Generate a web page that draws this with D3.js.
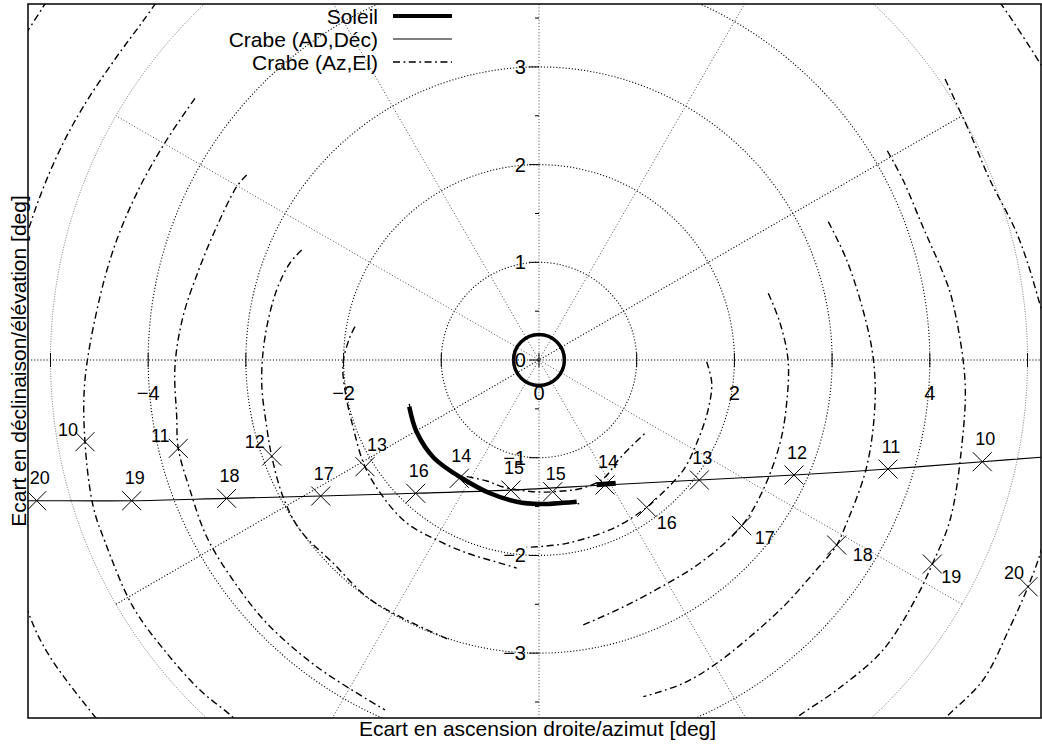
<!DOCTYPE html>
<html lang="fr">
<head>
<meta charset="UTF-8">
<title>Soleil et Crabe</title>
<script src="https://d3js.org/d3.v7.min.js"></script>
<style>
  body { margin: 0; background: #fff; }
  text { font-family: "Liberation Sans", Arial, sans-serif; fill: #000; }
</style>
</head>
<body>
<div id="content"></div>
<script>
// hours marked along the tracks
const hours = [10, 11, 12, 13, 14, 15, 16, 17, 18, 19, 20];

// Crab offset in (AD, Dec) at each hour [deg]
const crabeADx = [4.537, 3.572, 2.610, 1.641, 0.676, -0.287, -1.262, -2.234, -3.197, -4.169, -5.141];
const crabeADy = [-1.041, -1.116, -1.177, -1.228, -1.279, -1.331, -1.364, -1.392, -1.416, -1.440, -1.440];
// the (AD, Dec) track, running out of the frame on both sides
const crabeADtrack = [[5.200, -0.990], [4.537, -1.041], [3.572, -1.116], [2.610, -1.177], [1.641, -1.228],
  [0.676, -1.279], [-0.287, -1.331], [-1.262, -1.364], [-2.234, -1.392], [-3.197, -1.416],
  [-4.169, -1.440], [-5.141, -1.440], [-5.300, -1.441]];

// Crab offset in (Az, El) at each hour [deg]
const crabeAzx = [-4.647, -3.692, -2.736, -1.781, -0.816, 0.140, 1.102, 2.075, 3.047, 4.026, 5.005];
const crabeAzy = [-0.836, -0.904, -0.983, -1.092, -1.211, -1.348, -1.508, -1.696, -1.894, -2.088, -2.320];

// (Az, El) tracks, one arc per hour (ends outside the frame are estimated)
const arcH08 = [[-4.954, 3.808], [-5.074, 3.616], [-5.227, 3.378], [-5.363, 3.173]];
const arcH09 = [[-3.828, 3.787], [-4.050, 3.473], [-4.322, 3.104], [-4.664, 2.593], [-4.937, 2.081],
  [-5.210, 1.382], [-5.500, 0.300], [-5.620, -1.200], [-5.210, -2.627], [-5.005, -3.037],
  [-4.545, -3.651], [-4.391, -3.838]];
const arcH10 = [[-3.521, 2.679], [-3.811, 2.252], [-4.084, 1.774], [-4.322, 1.228], [-4.493, 0.648],
  [-4.647, -0.205], [-4.647, -0.836], [-4.562, -1.502], [-4.442, -1.860], [-4.156, -2.525],
  [-3.811, -2.999], [-3.470, -3.378], [-3.139, -3.651], [-2.958, -3.838]];
const arcH11 = [[-2.992, 1.894], [-3.094, 1.774], [-3.299, 1.364], [-3.470, 0.955], [-3.644, 0.443],
  [-3.726, -0.069], [-3.708, -0.580], [-3.692, -0.904], [-3.572, -1.331], [-3.401, -1.809],
  [-3.132, -2.252], [-2.787, -2.692], [-2.275, -3.139], [-1.576, -3.582]];
const arcH12 = [[-2.429, 1.126], [-2.549, 0.993], [-2.685, 0.716], [-2.804, 0.238], [-2.838, -0.235],
  [-2.787, -0.683], [-2.736, -0.983], [-2.620, -1.399], [-2.446, -1.740], [-2.108, -2.078],
  [-1.764, -2.423], [-1.423, -2.627], [-0.911, -2.866]];
const arcH13 = [[-1.883, 0.341], [-1.934, 0.238], [-2.006, -0.031], [-1.986, -0.307], [-1.904, -0.683],
  [-1.781, -1.092], [-1.597, -1.399], [-1.354, -1.668], [-1.047, -1.842], [-0.740, -1.975],
  [-0.399, -2.078], [-0.228, -2.130]];
const arcH14 = [[-1.328, -0.450], [-1.252, -0.737], [-1.075, -1.003], [-0.816, -1.211], [-0.502, -1.364],
  [-0.228, -1.450], [0.010, -1.474], [0.249, -1.461], [0.437, -1.474]];
const arcH15 = [[-0.740, -1.194], [-0.535, -1.238], [-0.368, -1.300], [-0.061, -1.348], [0.140, -1.348],
  [0.450, -1.310], [0.665, -1.208], [0.829, -1.003], [1.102, -0.734]];
const arcH16 = [[1.716, -0.017], [1.768, -0.235], [1.730, -0.512], [1.627, -0.819], [1.477, -1.126],
  [1.170, -1.450], [1.102, -1.508], [0.795, -1.706], [0.284, -1.876], [-0.126, -1.917]];
const arcH17 = [[2.347, 0.683], [2.467, 0.379], [2.549, 0.000], [2.535, -0.440], [2.467, -0.850],
  [2.293, -1.331], [2.075, -1.696], [1.648, -2.078], [1.136, -2.385], [0.795, -2.559], [0.453, -2.712]];
const arcH18 = [[2.961, 1.416], [3.149, 1.024], [3.316, 0.512], [3.419, 0.034], [3.439, -0.440],
  [3.354, -1.092], [3.132, -1.709], [3.047, -1.894], [2.808, -2.183], [2.500, -2.525],
  [2.160, -2.832], [1.819, -3.104], [1.477, -3.309], [1.068, -3.446]];
const arcH19 = [[3.565, 2.142], [3.726, 1.842], [3.930, 1.361], [4.135, 0.890], [4.224, 0.635],
  [4.360, -0.205], [4.326, -0.887], [4.207, -1.638], [4.026, -2.088], [3.866, -2.423],
  [3.521, -2.968], [3.047, -3.378], [2.671, -3.634], [2.467, -3.787]];
const arcH20 = [[4.156, 2.876], [4.411, 2.323], [4.616, 1.842], [4.889, 1.300], [5.094, 0.686],
  [5.280, -0.100], [5.300, -1.100], [5.145, -1.927], [5.005, -2.320], [4.821, -2.733],
  [4.545, -3.275], [4.173, -3.651], [4.053, -3.787]];
const arcH21 = [[4.616, 3.787], [4.736, 3.634], [5.128, 3.037], [5.280, 2.760]];
const crabeAzArcs = [arcH08, arcH09, arcH10, arcH11, arcH12, arcH13, arcH14,
  arcH15, arcH16, arcH17, arcH18, arcH19, arcH20, arcH21];

// Sun
const sunRadius = 0.26;
const sunTrack = [[-1.328, -0.478], [-1.252, -0.737], [-1.075, -1.003], [-0.775, -1.218], [-0.502, -1.364],
  [-0.228, -1.450], [0.010, -1.474], [0.249, -1.461], [0.386, -1.450]];
const sunTrackAD = [[0.590, -1.277], [0.785, -1.262]];

// polar grid and ticks
const gridRadii = [1, 2, 3, 4, 5];
const spokeAngles = [30, 60, 90, 120, 150];
const xTickValues = [-5, -4, -3, -2, -1, 0, 1, 2, 3, 4, 5];
const xTickLabels = [-4, -2, 0, 2, 4];
const yTickValues = [-3.5, -3, -2.5, -2, -1.5, -1, -0.5, 0, 0.5, 1, 1.5, 2, 2.5, 3, 3.5];
const yTickLabels = [-3, -2, -1, 0, 1, 2, 3];

const legendNames = ["Soleil", "Crabe (AD,Déc)", "Crabe (Az,El)"];

// label placement around the (Az,El) crosses, px
const azLabelShift = { 10: [-17, -12], 11: [-18, -13], 12: [-17, -15], 13: [12, -22], 14: [2, -23],
  15: [3, -18], 16: [20, 15], 17: [23, 12], 18: [26, 9], 19: [19, 12], 20: [-14, -14] };

const margin = { top: 4, right: 1, bottom: 26, left: 28 },
  width = 1042 - margin.left - margin.right,
  height = 744 - margin.top - margin.bottom;

const xLim = [-5.23, 5.138], yLim = [-3.664, 3.644];
const x = d3.scaleLinear().domain(xLim).range([0, width]);
const y = d3.scaleLinear().domain(yLim).range([height, 0]);

const dashDot = "7,3.5,1.8,3.5";
const fmt = v => (v < 0 ? "\u2212" + Math.abs(v) : String(v));

const svg = d3.select("#content").append("svg")
  .attr("width", 1042).attr("height", 744)
  .style("display", "block");

svg.append("defs").append("clipPath").attr("id", "clip")
  .append("rect").attr("width", width).attr("height", height);

const g = svg.append("g").attr("transform", `translate(${margin.left},${margin.top})`);
const plot = g.append("g").attr("clip-path", "url(#clip)");

const line = d3.line().x(d => x(d[0])).y(d => y(d[1])).curve(d3.curveCatmullRom.alpha(0.5));
const unit = x(1) - x(0);

// grid circles
plot.selectAll(".ring").data(gridRadii).enter().append("circle")
  .attr("cx", x(0)).attr("cy", y(0))
  .attr("r", d => d * unit)
  .attr("fill", "none")
  .attr("stroke", d => d === 5 ? "#666" : "#000")
  .attr("stroke-width", d => d === 5 ? 0.9 : 1.1)
  .attr("stroke-dasharray", d => d === 5 ? "1,1.5" : "1.1,2");

// spokes
const rMax = d3.max(gridRadii);
plot.selectAll(".spoke").data(spokeAngles).enter().append("line")
  .attr("x1", a => x(-rMax * Math.cos(a * Math.PI / 180)))
  .attr("y1", a => y(-rMax * Math.sin(a * Math.PI / 180)))
  .attr("x2", a => x(rMax * Math.cos(a * Math.PI / 180)))
  .attr("y2", a => y(rMax * Math.sin(a * Math.PI / 180)))
  .attr("stroke", a => a === 30 ? "#000" : "#444")
  .attr("stroke-width", a => a === 30 ? 1.1 : 0.9)
  .attr("stroke-dasharray", "1.1,2");

// horizontal axis line through the origin (dotted, full width)
plot.append("line")
  .attr("x1", 0).attr("x2", width).attr("y1", y(0)).attr("y2", y(0))
  .attr("stroke", "#000").attr("stroke-width", 1.1).attr("stroke-dasharray", "1.1,2");

// ticks through the origin
g.selectAll(".xtick").data(xTickValues).enter().append("line")
  .attr("x1", d => x(d)).attr("x2", d => x(d))
  .attr("y1", y(0) - 7).attr("y2", y(0) + 7)
  .attr("stroke", "#000");
g.selectAll(".ytick").data(yTickValues).enter().append("line")
  .attr("x1", d => x(0) - (Number.isInteger(d) ? 10 : 4)).attr("x2", x(0))
  .attr("y1", d => y(d)).attr("y2", d => y(d))
  .attr("stroke", "#000");

g.selectAll(".xlab").data(xTickLabels).enter().append("text")
  .attr("x", d => x(d)).attr("y", y(0) + 40)
  .attr("text-anchor", "middle").style("font-size", "20px")
  .text(fmt);
g.selectAll(".ylab").data(yTickLabels).enter().append("text")
  .attr("x", x(0) - 13).attr("y", d => y(d) + 7)
  .attr("text-anchor", "end").style("font-size", "20px")
  .text(fmt);

// Crab (AD, Dec)
plot.append("path").datum(crabeADtrack)
  .attr("d", line).attr("fill", "none").attr("stroke", "#000").attr("stroke-width", 1.1);

// Crab (Az, El)
plot.selectAll(".azarc").data(crabeAzArcs).enter().append("path")
  .attr("d", line).attr("fill", "none").attr("stroke", "#000").attr("stroke-width", 1.4)
  .attr("stroke-dasharray", dashDot);

// Sun
plot.append("circle").attr("cx", x(0)).attr("cy", y(0)).attr("r", sunRadius * unit)
  .attr("fill", "none").attr("stroke", "#000").attr("stroke-width", 3.5);
plot.append("path").datum(sunTrack).attr("d", line)
  .attr("fill", "none").attr("stroke", "#000").attr("stroke-width", 4.5);
plot.append("path").datum(sunTrackAD).attr("d", line)
  .attr("fill", "none").attr("stroke", "#000").attr("stroke-width", 5);

// hour crosses
function crosses(xs, ys) {
  const pts = hours.map((h, i) => [xs[i], ys[i]]);
  plot.append("g").selectAll("path").data(pts).enter().append("path")
    .attr("d", d => {
      const px = x(d[0]), py = y(d[1]), s = 9.5;
      return `M${px - s},${py - s}L${px + s},${py + s}M${px - s},${py + s}L${px + s},${py - s}`;
    })
    .attr("stroke", "#000").attr("stroke-width", 1).attr("fill", "none");
}
crosses(crabeADx, crabeADy);
crosses(crabeAzx, crabeAzy);

const hourLabels = g.append("g").style("font-size", "18px").attr("text-anchor", "middle");
hours.forEach((h, i) => {
  hourLabels.append("text")
    .attr("x", x(crabeADx[i]) + 3).attr("y", y(crabeADy[i]) - 23 + 6.5)
    .text(h);
  const s = azLabelShift[h];
  hourLabels.append("text")
    .attr("x", x(crabeAzx[i]) + s[0]).attr("y", y(crabeAzy[i]) + s[1] + 6.5)
    .text(h);
});

// legend (no frame)
const legend = g.append("g").style("font-size", "21px");
legendNames.forEach((name, i) => {
  const ly = 12 + i * 23;
  legend.append("text").attr("x", 350).attr("y", ly + 7.5).attr("text-anchor", "end").text(name);
  const l = legend.append("line").attr("x1", 365).attr("x2", 424).attr("y1", ly).attr("y2", ly)
    .attr("stroke", "#000");
  if (i === 0) l.attr("stroke-width", 4);
  if (i === 1) l.attr("stroke-width", 1.1);
  if (i === 2) l.attr("stroke-width", 1.4).attr("stroke-dasharray", dashDot);
});

// axes frame
g.append("rect").attr("width", width).attr("height", height)
  .attr("fill", "none").attr("stroke", "#000").attr("stroke-width", 1.5);

// axis titles
svg.append("text").attr("x", margin.left + width / 2 + 3).attr("y", 736)
  .attr("text-anchor", "middle").style("font-size", "21px")
  .text("Ecart en ascension droite/azimut [deg]");
svg.append("text").attr("transform", `translate(26,${margin.top + height / 2}) rotate(-90)`)
  .attr("text-anchor", "middle").style("font-size", "21px")
  .text("Ecart en déclinaison/élévation [deg]");
</script>
</body>
</html>
